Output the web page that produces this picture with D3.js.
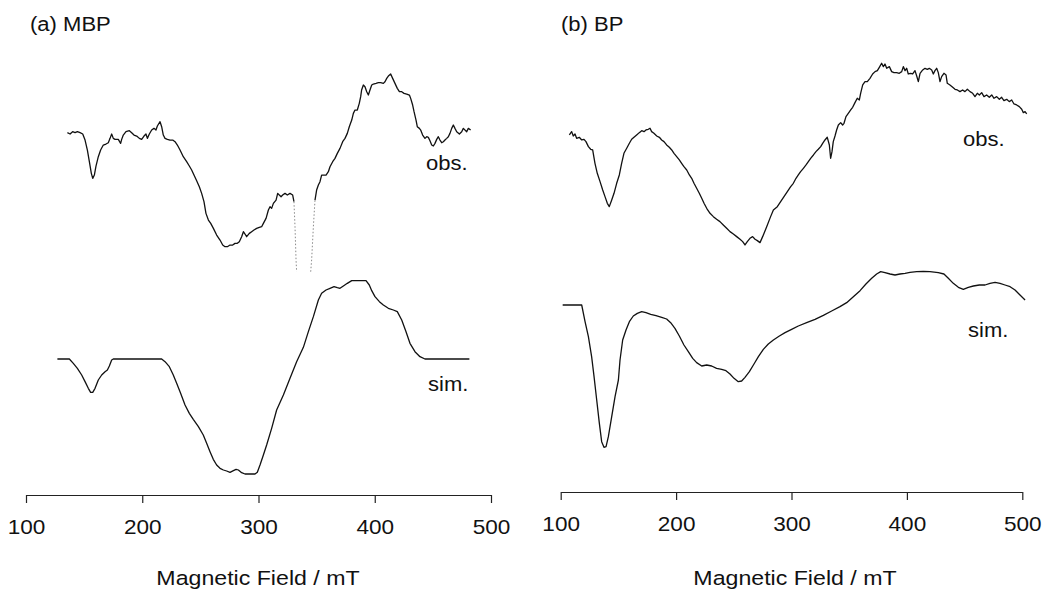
<!DOCTYPE html>
<html>
<head>
<meta charset="utf-8">
<script src="https://cdn.jsdelivr.net/npm/d3@7"></script>
<style>
body { margin: 0; background: #fff; }
text { font-family: "Liberation Sans", Arial, sans-serif; fill: #111; }
</style>
</head>
<body>
<div id="chart"></div>
<script>

// magnetic field ticks (mT)
var fieldTicks = [100, 200, 300, 400, 500];
var panelTitles = ["(a) MBP", "(b) BP"];
var traceLabels = ["obs.", "sim."];
var axisTitle = "Magnetic Field / mT";

// spectra: [field mT, intensity a.u.], null = gap in the trace
var obsMBP = [
  [135.6,0],[137.9,-4],[140.1,3],[142.2,0],[144.2,3],[146.5,0],[148.8,-4],[150.8,-22],[152.8,-52],[154.5,-87],
  [156.2,-122],[157.4,-137],[158.8,-127],[160.2,-100],[162.2,-72],[164.2,-52],[166.5,-37],[168.8,-34],[170.8,-30],[172.3,-17],
  [173.7,-4],[175.1,-17],[176.6,-20],[179.4,-20],[181.4,-32],[182.3,-20],[183.7,-7],[186.0,3],[188.9,6],[190.9,0],
  [192.9,-7],[195.2,-10],[197.5,-17],[199.5,-20],[201.5,-10],[203.2,-4],[204.4,-17],[206.1,-4],[208.1,8],[210.1,13],
  [211.8,8],[213.0,20],[215.3,33],[216.7,18],[218.1,-7],[219.6,-17],[221.6,-20],[223.9,-22],[226.2,-22],[228.2,-27],
  [230.2,-37],[232.5,-52],[235.3,-72],[238.2,-87],[240.5,-100],[242.5,-112],[244.5,-127],[246.8,-144],[249.1,-162],[251.1,-182],
  [253.1,-207],[254.8,-242],[256.9,-262],[258.9,-272],[261.2,-287],[264.0,-307],[266.9,-322],[269.2,-337],[271.2,-342],[273.2,-342],
  [275.5,-337],[277.8,-337],[279.8,-332],[281.8,-332],[283.5,-327],[285.5,-312],[287.0,-297],[288.4,-304],[289.8,-312],[292.1,-302],
  [294.1,-297],[296.1,-292],[298.4,-287],[300.7,-284],[302.7,-282],[304.2,-272],[306.5,-257],[308.5,-232],[309.9,-222],[311.3,-227],
  [312.8,-212],[315.1,-202],[316.5,-182],[317.9,-187],[319.4,-192],[320.8,-187],[322.8,-182],[324.8,-187],[327.1,-182],[329.4,-187],
  [330.5,-207],[331.4,-282],[332.3,-382],[332.8,-417],
  null,
  [344.9,-417],[345.7,-382],[347.2,-282],[348.6,-202],[350.0,-172],[351.5,-157],[352.9,-147],[354.3,-127],[356.3,-127],[358.1,-127],
  [360.1,-117],[361.5,-102],[363.8,-87],[365.8,-77],[367.8,-62],[370.1,-47],[372.4,-27],[374.4,-17],[376.4,-2],[378.1,18],
  [380.2,38],[381.6,58],[383.0,68],[385.0,68],[386.7,88],[387.9,108],[388.7,128],[390.2,143],[391.6,138],[393.1,123],
  [394.5,113],[395.9,128],[397.4,143],[398.8,146],[401.1,148],[403.1,150],[405.1,150],[407.4,148],[408.8,153],[410.3,163],
  [411.7,170],[413.7,176],[415.4,163],[417.4,148],[419.4,133],[421.2,123],[423.2,123],[425.2,118],[427.5,116],[429.8,113],
  [430.9,103],[432.6,83],[433.8,63],[435.5,38],[436.6,18],[438.4,13],[439.5,8],[441.2,-7],[443.2,-17],[444.7,-12],
  [446.1,-14],[447.5,-24],[449.0,-37],[450.4,-40],[451.8,-32],[453.3,-20],[454.7,-12],[456.1,-22],[457.6,-30],[459.0,-27],
  [460.4,-22],[461.9,-17],[463.3,-12],[464.7,-2],[466.2,13],[467.6,23],[469.0,13],[470.5,3],[472.8,-4],[474.8,3],
  [476.2,13],[477.6,8],[479.1,3],[480.5,13],[482.5,8]
];

var simMBP = [
  [127.0,0],[137.3,0],[140.7,-13],[144.2,-28],[147.9,-48],[150.8,-68],[153.6,-88],[155.6,-100],[157.4,-100],[159.4,-88],
  [162.2,-63],[165.1,-48],[168.0,-38],[170.0,-33],[171.7,-21],[173.7,-3],[175.1,0],[216.7,0],[219.6,-8],[223.3,-23],
  [226.7,-48],[229.6,-73],[233.0,-103],[236.8,-138],[240.5,-163],[243.9,-181],[248.3,-203],[252.5,-228],[255.4,-253],[258.3,-278],
  [261.1,-301],[264.0,-318],[266.9,-328],[269.8,-333],[272.6,-336],[275.5,-340],[278.4,-335],[280.7,-331],[282.7,-333],[285.5,-341],
  [288.4,-345],[292.7,-345],[297.0,-345],[299.0,-340],[301.3,-318],[304.2,-288],[307.0,-258],[311.3,-208],[315.6,-153],[321.4,-108],
  [327.1,-58],[332.8,-8],[338.6,35],[342.9,82],[347.2,127],[351.5,177],[354.3,197],[358.1,207],[361.5,212],[365.0,217],
  [367.8,214],[370.1,212],[373.0,219],[376.4,227],[380.2,235],[384.5,235],[388.7,235],[392.5,235],[395.3,222],[397.4,205],
  [400.2,187],[404.0,172],[407.4,162],[411.7,152],[416.0,147],[419.4,142],[423.2,117],[426.9,82],[430.3,47],[434.6,22],
  [438.9,7],[443.2,0],[481.4,0]
];

var obsBP = [
  [107.5,-5],[109.5,5],[110.9,-8],[112.4,-2],[113.8,-15],[116.1,-12],[118.2,-20],[120.2,-18],[121.9,-25],[124.0,-40],
  [126.0,-48],[127.7,-50],[129.7,-90],[131.7,-120],[134.1,-145],[136.4,-170],[138.4,-190],[140.4,-210],[142.1,-220],[144.2,-200],
  [146.2,-180],[148.5,-150],[150.8,-125],[152.8,-90],[154.8,-60],[157.2,-45],[159.5,-30],[161.5,-18],[163.5,-12],[165.8,-5],
  [168.1,2],[170.2,8],[172.2,5],[173.9,10],[175.9,12],[177.4,15],[178.8,5],[180.8,0],[183.2,-8],[185.5,-12],
  [187.5,-20],[189.5,-25],[191.8,-35],[194.1,-42],[196.2,-50],[198.2,-60],[200.5,-70],[202.8,-80],[204.8,-90],[206.8,-100],
  [209.2,-110],[211.5,-125],[213.5,-135],[215.5,-150],[217.8,-165],[220.1,-180],[222.2,-195],[224.2,-210],[226.5,-225],[229.4,-240],
  [232.3,-250],[235.1,-258],[238.0,-265],[240.9,-275],[243.8,-285],[246.7,-295],[249.6,-302],[252.5,-310],[255.4,-318],[257.7,-325],
  [259.7,-335],[261.7,-325],[264.0,-315],[266.3,-310],[268.4,-318],[270.4,-322],[272.7,-328],[275.0,-310],[278.5,-280],[281.9,-250],
  [284.3,-230],[287.7,-220],[290.6,-205],[293.5,-190],[296.4,-175],[299.3,-160],[301.6,-150],[303.9,-135],[305.9,-125],[307.9,-115],
  [310.3,-105],[312.6,-95],[314.6,-85],[316.6,-75],[319.0,-65],[321.2,-55],[323.2,-48],[325.3,-40],[327.0,-30],[329.0,-20],
  [331.0,-12],[332.8,-35],[333.9,-75],[335.1,-55],[336.2,-25],[337.7,-8],[339.1,10],[340.6,25],[342.6,32],[344.3,25],
  [345.5,30],[347.2,50],[349.2,60],[351.3,70],[353.0,78],[355.0,92],[357.0,105],[358.8,100],[359.9,120],[361.7,145],
  [363.7,155],[365.7,155],[368.0,165],[370.3,178],[372.4,185],[374.4,188],[376.1,198],[378.1,210],[379.6,200],[381.0,208],
  [382.5,195],[384.8,200],[386.8,185],[388.8,182],[391.1,182],[393.4,180],[395.5,185],[396.9,200],[398.4,188],[399.8,195],
  [401.2,178],[403.3,180],[405.0,178],[407.0,188],[408.5,172],[409.9,155],[411.4,180],[413.7,190],[415.7,195],[417.7,192],
  [419.4,195],[421.5,190],[422.9,178],[424.3,188],[425.8,195],[427.2,182],[428.7,155],[430.1,170],[432.1,180],[433.9,175],
  [435.0,150],[437.3,145],[439.7,138],[441.7,132],[443.7,130],[446.0,125],[448.3,130],[450.3,125],[452.4,132],[454.7,125],
  [457.0,120],[459.0,110],[461.0,120],[462.8,115],[464.8,122],[466.8,110],[469.1,115],[471.4,108],[473.5,115],[475.5,105],
  [477.8,110],[480.1,102],[482.1,108],[484.1,98],[486.5,102],[488.7,95],[490.8,100],[492.8,88],[495.1,85],[497.4,80],
  [499.5,72],[500.9,62],[502.4,65],[503.8,58]
];

var simBP = [
  [101.7,0],[118.2,0],[121.1,-50],[124.0,-95],[126.8,-155],[128.9,-215],[131.2,-285],[133.5,-355],[135.5,-410],[137.5,-427],
  [139.3,-425],[141.3,-395],[144.2,-335],[147.1,-275],[150.0,-225],[151.4,-165],[153.7,-105],[156.6,-75],[159.5,-50],[162.9,-33],
  [166.4,-25],[170.2,-20],[173.9,-23],[178.0,-28],[182.6,-32],[187.5,-37],[191.8,-42],[195.3,-53],[199.0,-70],[202.8,-93],
  [206.8,-120],[210.6,-140],[214.4,-160],[217.8,-173],[222.2,-183],[226.5,-180],[230.8,-183],[235.1,-190],[239.5,-193],[243.2,-197],
  [246.7,-207],[250.2,-220],[253.9,-230],[256.8,-228],[259.7,-217],[263.5,-200],[267.5,-177],[271.3,-155],[275.6,-133],[279.9,-117],
  [284.3,-105],[289.5,-93],[294.4,-83],[300.1,-73],[305.9,-63],[313.1,-53],[320.4,-43],[327.6,-31],[334.8,-18],[342.0,-5],
  [347.8,7],[353.6,25],[359.4,43],[364.5,63],[369.5,80],[373.8,93],[377.3,100],[381.0,97],[385.4,93],[389.7,90],
  [394.0,93],[398.4,95],[402.7,98],[408.5,100],[414.2,101],[420.0,100],[427.2,97],[432.1,93],[435.9,80],[440.2,65],
  [444.6,53],[448.9,47],[453.2,53],[457.6,57],[462.8,60],[467.7,60],[472.0,65],[476.4,68],[480.7,65],[485.0,60],
  [489.4,55],[493.7,45],[498.0,30],[502.4,15]
];

// field range where the MBP obs. recorder trace is too steep and prints dotted
var faintRangeMBP = [330, 349];

var width = 1043, height = 591;
var textStretch = 1.13;

var panels = [
  { title: panelTitles[0], obs: obsMBP, sim: simMBP, faint: faintRangeMBP, left: 26, right: 491, axisY: 495,
    obsBase: 132.7, simBase: 359, titleX: 30, obsLabel: [426, 170], simLabel: [428, 391], axisTitleX: 258 },
  { title: panelTitles[1], obs: obsBP, sim: simBP, faint: null, left: 560.7, right: 1022.3, axisY: 492,
    obsBase: 133.3, simBase: 305, titleX: 561, obsLabel: [963, 146], simLabel: [968, 337], axisTitleX: 795 }
];

var svg = d3.select("#chart")
    .append("svg")
    .attr("width", width)
    .attr("height", height);

svg.append("rect")
    .attr("width", width)
    .attr("height", height)
    .attr("fill", "#fff");

// intensity in arbitrary units, same scaling for every trace
var yScale = d3.scaleLinear()
    .domain([0, 300])
    .range([0, -100]);

// split a trace into runs of solid / faint segments
function splitRuns(data, range) {
    var runs = [];
    var cur = null;
    function inside(d) { return range && d[0] >= range[0] && d[0] <= range[1]; }
    for (var i = 0; i < data.length - 1; i++) {
        var a = data[i], b = data[i + 1];
        if (!a || !b) { cur = null; continue; }
        var faint = inside(a) && inside(b);
        if (!cur || cur.faint != faint) {
            cur = { faint: faint, pts: [a] };
            runs.push(cur);
        }
        cur.pts.push(b);
    }
    return runs;
}

// scanned lettering is a bit wider than Helvetica
function addText(parent, x, y, str, size, anchor) {
    parent.append("g")
        .attr("transform", "translate(" + x + "," + y + ") scale(" + textStretch + ",1)")
        .append("text")
        .attr("text-anchor", anchor || "start")
        .style("font-size", size + "px")
        .text(str);
}

panels.forEach(function(p) {

    var xScale = d3.scaleLinear()
        .domain([100, 500])
        .range([p.left, p.right]);

    var line = d3.line()
        .x(function(d) { return xScale(d[0]); })
        .y(function(d) { return yScale(d[1]); });

    var g = svg.append("g");

    addText(g, p.titleX, 31, p.title, 19.5);

    [[p.obs, p.obsBase, p.faint], [p.sim, p.simBase, null]].forEach(function(t) {
        var tg = g.append("g")
            .attr("transform", "translate(0," + t[1] + ")");
        splitRuns(t[0], t[2]).forEach(function(r) {
            tg.append("path")
                .attr("d", line(r.pts))
                .attr("fill", "none")
                .attr("stroke", r.faint ? "#8a8a8a" : "#111")
                .attr("stroke-width", r.faint ? 1 : 1.3)
                .attr("stroke-dasharray", r.faint ? "1.5,2" : null)
                .attr("stroke-linejoin", "round");
        });
    });

    addText(g, p.obsLabel[0], p.obsLabel[1], traceLabels[0], 19.5);
    addText(g, p.simLabel[0], p.simLabel[1], traceLabels[1], 19.5);

    var xAxis = d3.axisBottom()
        .scale(xScale)
        .tickValues(fieldTicks)
        .tickSize(8)
        .tickSizeOuter(0)
        .tickFormat(d3.format("d"));

    var ax = g.append("g")
        .attr("transform", "translate(0," + p.axisY + ")")
        .call(xAxis);

    ax.select(".domain")
        .attr("stroke", "#222")
        .attr("stroke-width", 1.2);
    ax.selectAll(".tick line")
        .attr("stroke", "#222")
        .attr("stroke-width", 1.2);
    ax.selectAll(".tick text")
        .attr("y", 39)
        .attr("dy", 0)
        .attr("transform", "scale(" + textStretch + ",1)")
        .style("font-family", "'Liberation Sans', Arial, sans-serif")
        .style("font-size", "20px")
        .attr("fill", "#111");

    addText(g, p.axisTitleX, 585, axisTitle, 20.5, "middle");
});

</script>
</body>
</html>
